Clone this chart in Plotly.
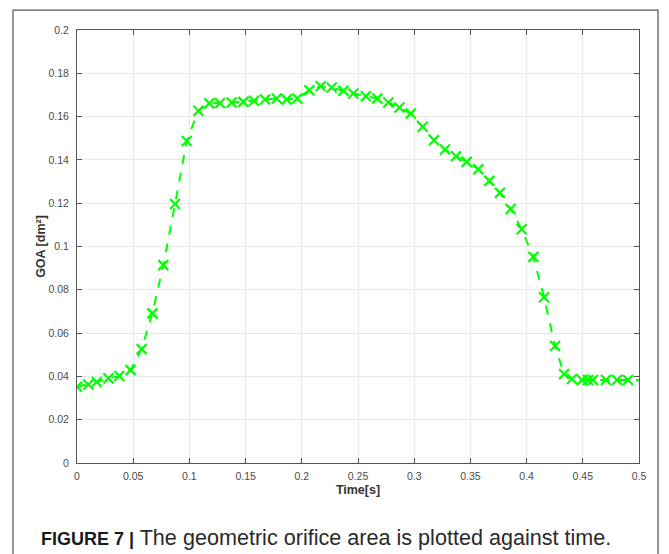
import plotly.graph_objects as go

time_s = [0, 0.010, 0.0175, 0.028, 0.0377, 0.0477, 0.0575, 0.067, 0.0768, 0.0872,
          0.0976, 0.108, 0.1177, 0.1272, 0.1376, 0.148, 0.1575, 0.1673, 0.1777, 0.1865,
          0.196, 0.2067, 0.2168, 0.2266, 0.237, 0.2458, 0.257, 0.2672, 0.277, 0.2868,
          0.2969, 0.3076, 0.3176, 0.3274, 0.3372, 0.3467, 0.357, 0.3668, 0.3763, 0.3858,
          0.3956, 0.406, 0.4155, 0.4253, 0.4333, 0.4404, 0.4493, 0.4546, 0.459, 0.4706,
          0.4804, 0.4902, 0.51]
goa = [0.0352, 0.0363, 0.0374, 0.0391, 0.0402, 0.0429, 0.0526, 0.0691, 0.0914, 0.1196,
       0.1487, 0.1627, 0.1661, 0.1663, 0.1665, 0.1668, 0.1673, 0.1679, 0.1684, 0.1679,
       0.1684, 0.1722, 0.1740, 0.1734, 0.1719, 0.1707, 0.1694, 0.1684, 0.1665, 0.1642,
       0.1614, 0.1553, 0.1491, 0.1448, 0.1417, 0.1391, 0.1357, 0.1303, 0.1248, 0.1173,
       0.1080, 0.0952, 0.0766, 0.0540, 0.0411, 0.0388, 0.0383, 0.0383, 0.0383, 0.0383,
       0.0383, 0.0383, 0.0383]

x_ticks = [0, 0.05, 0.1, 0.15, 0.2, 0.25, 0.3, 0.35, 0.4, 0.45, 0.5]
x_tick_labels = ["0", "0.05", "0.1", "0.15", "0.2", "0.25", "0.3", "0.35", "0.4", "0.45", "0.5"]
y_ticks = [0, 0.02, 0.04, 0.06, 0.08, 0.1, 0.12, 0.14, 0.16, 0.18, 0.2]
y_tick_labels = ["0", "0.02", "0.04", "0.06", "0.08", "0.1", "0.12", "0.14", "0.16", "0.18", "0.2"]

x_title = "Time[s]"
y_title = "GOA [dm²]"
caption = ("<span style='font-size:18px;color:#1a1a1a'><b>FIGURE 7 |</b></span>"
           " The geometric orifice area is plotted against time.")

green = "#00ff00"
font_family = "Liberation Sans, Arial"

fig = go.Figure()
fig.add_trace(go.Scatter(
    x=time_s, y=goa, mode="lines+markers",
    line=dict(color=green, width=2, dash="dash"),
    marker=dict(symbol="x-thin", size=10, line=dict(color=green, width=2.2), color=green),
    cliponaxis=True, showlegend=False,
))

axis_common = dict(
    showline=True, linecolor="#555555", linewidth=1, mirror="ticks",
    ticks="inside", ticklen=5, tickcolor="#555555", tickwidth=1,
    showgrid=True, gridcolor="#e8e8e8", gridwidth=1, zeroline=False,
    tickfont=dict(family=font_family, size=10.5, color="#4a4a4a"),
)

fig.update_xaxes(
    range=[0, 0.5], tickmode="array", tickvals=x_ticks, ticktext=x_tick_labels,
    ticklabelstandoff=3,
    title=dict(text="<b>" + x_title + "</b>", font=dict(family=font_family, size=12.5, color="#333333"), standoff=4),
    **axis_common,
)
fig.update_yaxes(
    range=[0, 0.2], tickmode="array", tickvals=y_ticks, ticktext=y_tick_labels,
    ticklabelstandoff=5,
    title=dict(text="<b>" + y_title + "</b>", font=dict(family=font_family, size=12.5, color="#333333"), standoff=0),
    **axis_common,
)

fig.update_layout(
    width=661, height=546,
    margin=dict(l=69, r=30, t=22, b=91),
    paper_bgcolor="white", plot_bgcolor="white",
    shapes=[dict(type="rect", xref="paper", yref="paper",
                 x0=-0.1139, x1=1.0338, y0=-0.25, y1=1.046,
                 line=dict(color="#555555", width=1.2), layer="below")],
    annotations=[dict(text=caption, xref="paper", yref="paper",
                      x=-0.068, y=-0.172, xanchor="left", yanchor="middle",
                      showarrow=False,
                      font=dict(family=font_family, size=21.6, color="#2a2a2a"))],
)

fig.write_html("out.html")
